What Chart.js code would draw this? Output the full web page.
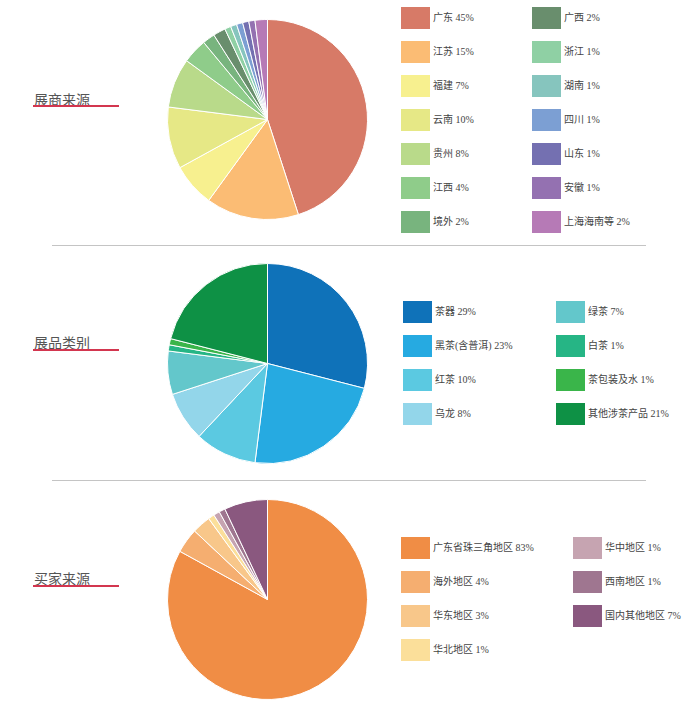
<!DOCTYPE html>
<html>
<head>
<meta charset="utf-8">
<script src="https://cdn.jsdelivr.net/npm/chart.js@4.4.0/dist/chart.umd.min.js"></script>
<style>
  html, body { margin: 0; padding: 0; background: #fff; }
  body { width: 700px; height: 711px; position: relative; overflow: hidden; }
  .pie { position: absolute; }
  .title { position: absolute; left: 34px; font-family: "Noto Sans CJK SC", sans-serif; font-size: 14px; color: #555; line-height: 14px; }
  .uline { position: absolute; left: 33px; width: 86px; height: 1.5px; background: #d3364f; }
  .sep { position: absolute; left: 52px; width: 594px; height: 1px; background: #c4c4c4; }
  .box { position: absolute; width: 29px; height: 22px; }
  .lbl { position: absolute; font-family: "Liberation Serif", "Noto Sans CJK SC", serif; font-size: 10px; color: #444; line-height: 22px; white-space: nowrap; }
</style>
</head>
<body>
<script>
// ---- Data ----
const exhibitorLabels = ["广东","江苏","福建","云南","贵州","江西","境外","广西","浙江","湖南","四川","山东","安徽","上海海南等"];
const exhibitorValues = [45, 15, 7, 10, 8, 4, 2, 2, 1, 1, 1, 1, 1, 2];
const exhibitorColors = ["#d77a67","#fbbc74","#f7f08f","#e6e886","#b9da8a","#8fcc8a","#78b47e","#698e6d","#8fd0a4","#86c5be","#7c9fd3","#7470b1","#9471b1","#b67ab6"];

const productLabels = ["茶器","黑茶(含普洱)","红茶","乌龙","绿茶","白茶","茶包装及水","其他涉茶产品"];
const productValues = [29, 23, 10, 8, 7, 1, 1, 21];
const productColors = ["#0f72b9","#26aae1","#5bc9e1","#93d6ea","#63c7cb","#26b585","#3ab54a","#0e9145"];

const buyerLabels = ["广东省珠三角地区","海外地区","华东地区","华北地区","华中地区","西南地区","国内其他地区"];
const buyerValues = [83, 4, 3, 1, 1, 1, 7];
const buyerColors = ["#f08d45","#f5ae70","#f8c78a","#fbdf9a","#c6a4b1","#9f7690","#8a587f"];

const sectionTitles = ["展商来源","展品类别","买家来源"];

// ---- Layout ----
const sections = [
  { labels: exhibitorLabels, values: exhibitorValues, colors: exhibitorColors, cy: 119, titleY: 92, lineY: 105,
    perCol: 7, colX: [401, 532], rowY: 7 },
  { labels: productLabels, values: productValues, colors: productColors, cy: 363, titleY: 335, lineY: 349,
    perCol: 4, colX: [403, 556], rowY: 301 },
  { labels: buyerLabels, values: buyerValues, colors: buyerColors, cy: 599, titleY: 571, lineY: 585,
    perCol: 4, colX: [401, 573], rowY: 537 }
];

[245, 480].forEach(y => {
  const d = document.createElement('div');
  d.className = 'sep'; d.style.top = y + 'px';
  document.body.appendChild(d);
});

sections.forEach((s, si) => {
  const t = document.createElement('div');
  t.className = 'title'; t.style.top = s.titleY + 'px'; t.textContent = sectionTitles[si];
  document.body.appendChild(t);
  const u = document.createElement('div');
  u.className = 'uline'; u.style.top = s.lineY + 'px';
  document.body.appendChild(u);

  const size = 201;
  const c = document.createElement('canvas');
  c.className = 'pie';
  c.width = size; c.height = size;
  c.style.width = size + 'px'; c.style.height = size + 'px';
  c.style.left = (267.5 - size / 2) + 'px';
  c.style.top = (s.cy - size / 2) + 'px';
  document.body.appendChild(c);
  new Chart(c, {
    type: 'pie',
    data: { labels: s.labels, datasets: [{ data: s.values, backgroundColor: s.colors, borderColor: '#ffffff', borderWidth: 1 }] },
    options: {
      responsive: false, animation: false,
      layout: { padding: 0 },
      plugins: { legend: { display: false }, tooltip: { enabled: false } }
    }
  });

  s.labels.forEach((lab, i) => {
    const col = Math.floor(i / s.perCol), row = i % s.perCol;
    const x = s.colX[col], y = s.rowY + row * 34;
    const b = document.createElement('div');
    b.className = 'box'; b.style.left = x + 'px'; b.style.top = y + 'px'; b.style.background = s.colors[i];
    document.body.appendChild(b);
    const l = document.createElement('div');
    l.className = 'lbl'; l.style.left = (x + 32) + 'px'; l.style.top = y + 'px';
    l.textContent = lab + ' ' + s.values[i] + '%';
    document.body.appendChild(l);
  });
});
</script>
</body>
</html>
